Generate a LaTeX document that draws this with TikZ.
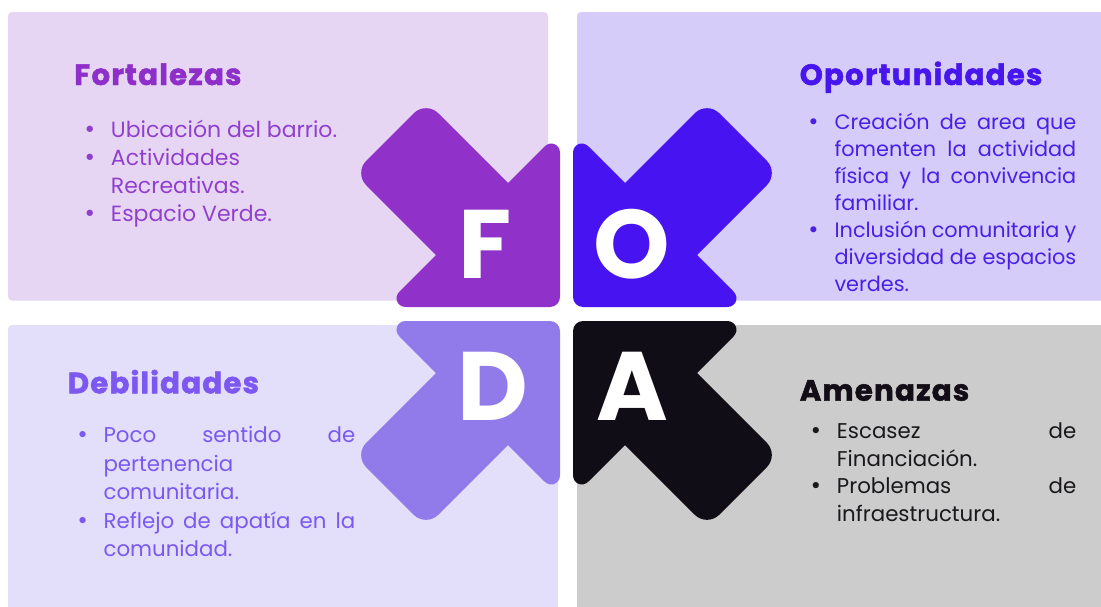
\documentclass[tikz,border=0pt]{standalone}
\usepackage{fontspec}
\setmainfont{Poppins}
\newfontfamily\heavyfont{Poppins}[BoldFeatures={FakeBold=1.6,LetterSpace=4}]
\newfontfamily\bulfont{DejaVu Sans}
\definecolor{boxF}{HTML}{E6D6F4}
\definecolor{boxO}{HTML}{D5CCF9}
\definecolor{boxD}{HTML}{E3DEFA}
\definecolor{boxA}{HTML}{CCCCCC}
\definecolor{arrF}{HTML}{9031CA}
\definecolor{arrO}{HTML}{4714F1}
\definecolor{arrD}{HTML}{917AE9}
\definecolor{arrA}{HTML}{110D16}
\definecolor{titF}{HTML}{8D2FC8}
\definecolor{txtF}{HTML}{9140CE}
\definecolor{titO}{HTML}{4715EE}
\definecolor{txtO}{HTML}{4A20E6}
\definecolor{titD}{HTML}{7C58F1}
\definecolor{txtD}{HTML}{7A59F0}
\definecolor{titA}{HTML}{120D16}
\definecolor{txtA}{HTML}{1A181C}
\newlength\fodaw
\newcommand\fbul{\llap{\makebox[0pt][c]{\bulfont •}\hspace{15.75pt}}}
\newcommand\fjl[1]{\makebox[\fodaw][s]{#1}}
\begin{document}
\begin{tikzpicture}[x=0.75pt,y=-0.75pt,
  quad/.style={rounded corners=3pt},
  foarrow/.pic={
    \fill (0,-10) -- (0,-154) .. controls (0,-162.8) and (-9.4,-166.6) .. (-15.6,-160.4)
      -- (-160.4,-15.6) .. controls (-166.6,-9.4) and (-162.8,0) .. (-154,0)
      -- (-10,0) .. controls (-4.5,0) and (0,-4.5) .. (0,-10) -- cycle;
    \fill[rounded corners=13pt] (-12,-84) -- (-134,-206) -- (-206,-134) -- (-84,-12) -- cycle;
  },
  letter/.style={anchor=base, inner sep=0, text=white, font=\bfseries\fontsize{73}{73}\selectfont},
  title/.style={anchor=base west, inner sep=0, font=\heavyfont\bfseries\fontsize{22}{26}\selectfont},
  items/.style={anchor=base west, inner sep=0}
]
\useasboundingbox (0,0) rectangle (1101,607);
\fill[white] (0,0) rectangle (1101,607);
% quadrant boxes
\fill[boxF, quad] (8,12) rectangle (548,300.5);
\fill[boxO, quad] (577,12) rectangle (1115,300.5);
\fill[boxD, quad] (8,325) rectangle (558,620);
\fill[boxA, quad] (577,325) rectangle (1115,620);
% arrows
\pic[fill=arrF] at (560,307) {foarrow};
\pic[fill=arrO, xscale=-1] at (573,307) {foarrow};
\pic[fill=arrD, yscale=-1] at (560,321) {foarrow};
\pic[fill=arrA, xscale=-1, yscale=-1] at (573,321) {foarrow};
% letters
\node[letter] (lF) at (484.7,278.3) {F};
\node[letter] (lO) at (632,278.3) {O};
\node[letter] (lD) at (493,420) {D};
\node[letter] (lA) at (632.5,420) {A};
% titles
\node[title, text=titF] (tF) at (74,85) {Fortalezas};
\node[title, text=titO] (tO) at (799.5,85) {Oportunidades};
\node[title, text=titD] (tD) at (67.5,393.3) {Debilidades};
\node[title, text=titA] (tA) at (799.5,400.7) {Amenazas};
% items
\node[items, text=txtF, font=\fontsize{16.5}{21.1}\selectfont] (iF) at (110.7,137.3)
 {\begin{tabular}[t]{@{}l@{}}
 \fbul Ubicación del barrio.\\
 \fbul Actividades\\
 Recreativas.\\
 \fbul Espacio Verde.
 \end{tabular}};
\node[items, text=txtO, font=\fontsize{15.6}{20.3}\selectfont] (iO) at (834.3,129.3)
 {\setlength\fodaw{181.3pt}\begin{tabular}[t]{@{}l@{}}
 \fbul\fjl{Creación de area que}\\
 \fjl{fomenten la actividad}\\
 \fjl{física y la convivencia}\\
 familiar.\\
 \fbul\fjl{Inclusión comunitaria y}\\
 \fjl{diversidad de espacios}\\
 verdes.
 \end{tabular}};
\node[items, text=txtD, font=\fontsize{16}{21.4}\selectfont] (iD) at (103.3,442.7)
 {\setlength\fodaw{188.8pt}\begin{tabular}[t]{@{}l@{}}
 \fbul\fjl{Poco sentido de}\\
 pertenencia\\
 comunitaria.\\
 \fbul\fjl{Reflejo de apatía en la}\\
 comunidad.
 \end{tabular}};
\node[items, text=txtA, font=\fontsize{16}{20.85}\selectfont] (iA) at (836.7,438.3)
 {\setlength\fodaw{179.5pt}\begin{tabular}[t]{@{}l@{}}
 \fbul\fjl{Escasez de}\\
 Financiación.\\
 \fbul\fjl{Problemas de}\\
 infraestructura.
 \end{tabular}};
\end{tikzpicture}
\end{document}
